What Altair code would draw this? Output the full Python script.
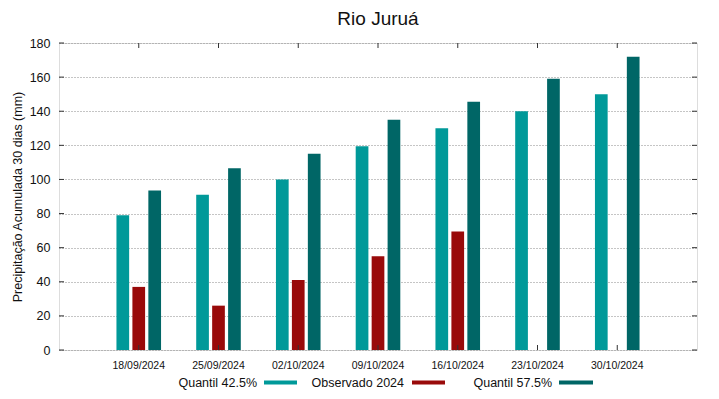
import altair as alt
import pandas as pd

dates = ["18/09/2024", "25/09/2024", "02/10/2024", "09/10/2024",
         "16/10/2024", "23/10/2024", "30/10/2024"]
series = ["Quantil 42.5%", "Observado 2024", "Quantil 57.5%"]
colors = ["#009999", "#990a0a", "#006666"]

q425 = [79, 91, 100, 119.5, 130, 140, 150]
obs = [37, 26, 41, 55, 69.5, None, None]
q575 = [93.5, 106.5, 115, 135, 145.5, 159, 172]

yticks = [0, 20, 40, 60, 80, 100, 120, 140, 160, 180]
title_text = ["Rio Juruá"]

rows = []
for d, a, b, c in zip(dates, q425, obs, q575):
    for s, v in zip(series, (a, b, c)):
        if v is not None:
            rows.append({"data": d, "serie": s, "valor": v})
df = pd.DataFrame(rows)

W, H = 638, 307
FONT = "Liberation Sans"

xscale = alt.Scale(paddingInner=0, paddingOuter=0.5)
yscale = alt.Scale(domain=[0, 180], nice=False)
cscale = alt.Scale(domain=series, range=colors)

xaxis = alt.Axis(title=None, labelAngle=0, ticks=False, domain=False,
                 labelFontSize=10.5, labelPadding=10, labelColor="#111",
                 labelFont=FONT, labelOverlap=False)
yaxis = alt.Axis(values=yticks, title="Precipitação Acumulada 30 dias (mm)",
                 ticks=False, domain=False, grid=True, gridDash=[1, 2],
                 gridColor="#8a8a8a", gridWidth=1, labelOverlap=False,
                 labelFontSize=12.5, labelPadding=9, labelColor="#111",
                 labelFont=FONT, titleFont=FONT, titleFontSize=12.5,
                 titleFontWeight="normal", titlePadding=5, titleColor="#111")

bars = alt.Chart(df).mark_bar(width=12.7).encode(
    x=alt.X("data:N", sort=dates, scale=xscale, axis=xaxis),
    xOffset=alt.XOffset("serie:N", sort=series,
                        scale=alt.Scale(domain=series, paddingInner=0, paddingOuter=1)),
    y=alt.Y("valor:Q", scale=yscale, axis=yaxis),
    color=alt.Color("serie:N", scale=cscale, legend=None),
)

ydf = pd.DataFrame({"v": yticks})
xdf = pd.DataFrame({"data": dates})

ytick_l = alt.Chart(ydf).mark_rule(color="#333").encode(
    y=alt.Y("v:Q", scale=yscale, axis=yaxis), x=alt.value(0), x2=alt.value(5))
ytick_r = alt.Chart(ydf).mark_rule(color="#333").encode(
    y=alt.Y("v:Q", scale=yscale, axis=yaxis), x=alt.value(W - 5), x2=alt.value(W))
xtick_t = alt.Chart(xdf).mark_rule(color="#333").encode(
    x=alt.X("data:N", sort=dates, scale=xscale, axis=xaxis), y=alt.value(0), y2=alt.value(5))
xtick_b = alt.Chart(xdf).mark_rule(color="#333").encode(
    x=alt.X("data:N", sort=dates, scale=xscale, axis=xaxis), y=alt.value(H - 5), y2=alt.value(H))

title = alt.Chart(pd.DataFrame({"t": title_text})).mark_text(
    align="center", baseline="alphabetic", fontSize=19, font=FONT, color="#111"
).encode(text="t:N", x=alt.value(W / 2), y=alt.value(-18))

# custom legend: label then swatch
legend_layers = []
leg_pos = [(198, 205, 238), (345, 353, 386), (493, 500, 534)]
LY = 339.5
for s, (tx, r0, r1) in zip(series, leg_pos):
    ldf = pd.DataFrame({"serie": [s]})
    legend_layers.append(
        alt.Chart(ldf).mark_text(align="right", baseline="middle", fontSize=12.5,
                                 font=FONT, color="#111").encode(
            text="serie:N", x=alt.value(tx), y=alt.value(LY)))
    legend_layers.append(
        alt.Chart(ldf).mark_rect().encode(
            x=alt.value(r0), x2=alt.value(r1), y=alt.value(LY - 2), y2=alt.value(LY + 2),
            color=alt.Color("serie:N", scale=cscale, legend=None)))

chart = alt.layer(bars, ytick_l, ytick_r, xtick_t, xtick_b, title, *legend_layers).properties(
    width=W, height=H,
    autosize=alt.AutoSizeParams(type="none"),
    padding={"left": 51, "top": 35, "right": 10, "bottom": 40},
).configure_view(stroke="#333", strokeWidth=1).configure_axis(
    labelOverlap=False
).configure(background="white")

chart.save("out.html", embed_options={"renderer": "svg", "actions": False})
